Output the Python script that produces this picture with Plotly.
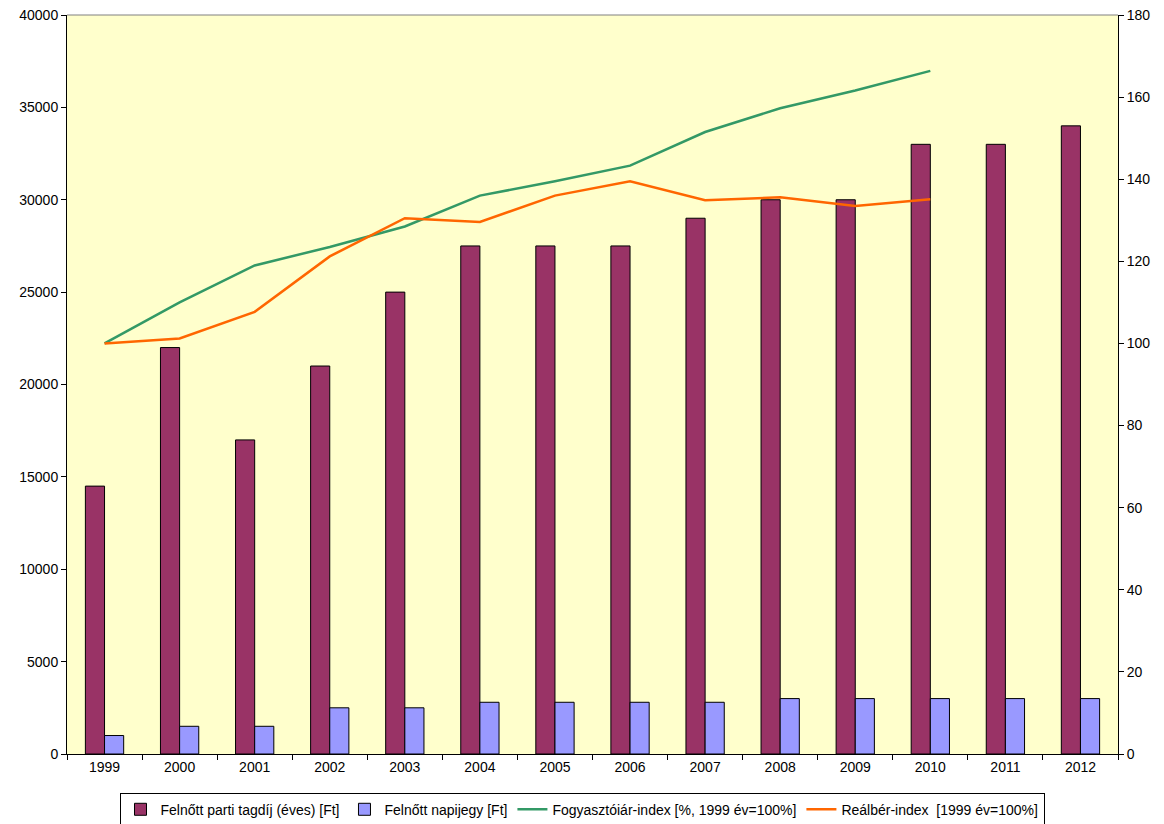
import plotly.graph_objects as go

years = ["1999", "2000", "2001", "2002", "2003", "2004", "2005", "2006",
         "2007", "2008", "2009", "2010", "2011", "2012"]
tagdij = [14500, 22000, 17000, 21000, 25000, 27500, 27500, 27500,
          29000, 30000, 30000, 33000, 33000, 34000]
napijegy = [1000, 1500, 1500, 2500, 2500, 2800, 2800, 2800,
            2800, 3000, 3000, 3000, 3000, 3000]
fogyasztoi = [100, 110, 119, 123.5, 128.5, 136, 139.5, 143.3,
              151.5, 157.3, 161.6, 166.4, None, None]
realber = [100, 101.2, 107.7, 121.2, 130.5, 129.6, 136, 139.5,
           134.9, 135.6, 133.5, 135.1, None, None]

names = ["Felnőtt parti tagdíj (éves) [Ft]", "Felnőtt napijegy [Ft]",
         "Fogyasztóiár-index [%, 1999 év=100%]", "Reálbér-index\u00a0 [1999 év=100%]"]

fig = go.Figure()
fig.add_trace(go.Bar(x=years, y=tagdij, name=names[0],
                     marker=dict(color="#993366", line=dict(color="#000000", width=1))))
fig.add_trace(go.Bar(x=years, y=napijegy, name=names[1],
                     marker=dict(color="#9999FF", line=dict(color="#000000", width=1))))
fig.add_trace(go.Scatter(x=years, y=fogyasztoi, name=names[2], yaxis="y2", mode="lines",
                         line=dict(color="#339966", width=2.5), connectgaps=False))
fig.add_trace(go.Scatter(x=years, y=realber, name=names[3], yaxis="y2", mode="lines",
                         line=dict(color="#FF6600", width=2.5), connectgaps=False))

font = dict(family="Liberation Sans, Arial, sans-serif", size=14, color="#000000")
fig.update_layout(
    width=1164, height=824,
    margin=dict(l=67, r=46, t=15, b=70),
    paper_bgcolor="#FFFFFF",
    plot_bgcolor="#FFFFCC",
    font=font,
    barmode="group",
    bargap=0.49,
    bargroupgap=0,
    showlegend=True,
    legend=dict(orientation="h", x=0.5, xanchor="center", xref="container",
                y=0.038, yanchor="top", yref="container",
                bordercolor="#000000", borderwidth=1, bgcolor="#FFFFFF",
                font=dict(family="Liberation Sans, Arial, sans-serif", size=14),
                itemwidth=30, tracegroupgap=0),
    xaxis=dict(type="category", showline=True, linecolor="#000000", linewidth=1,
               ticks="outside", ticklen=5, tickcolor="#000000", tickson="boundaries",
               showgrid=False, tickfont=font, automargin=False),
    yaxis=dict(range=[0, 40000], dtick=5000, showline=True, linecolor="#000000",
               linewidth=1, ticks="outside", ticklen=5, tickcolor="#000000",
               showgrid=False, zeroline=False, tickfont=font, tickformat="d",
               automargin=False),
    yaxis2=dict(range=[0, 180], dtick=20, overlaying="y", side="right", showline=True,
                linecolor="#000000", linewidth=1, ticks="outside", ticklen=5,
                tickcolor="#000000", showgrid=False, zeroline=False, tickfont=font,
                automargin=False),
    shapes=[dict(type="line", xref="paper", yref="paper", x0=0, x1=1, y0=1, y1=1,
                 line=dict(color="#808080", width=1))],
)

fig.write_html("out.html", config={"displayModeBar": False},
               post_script="document.body.style.margin='0';document.body.style.overflow='hidden';")
